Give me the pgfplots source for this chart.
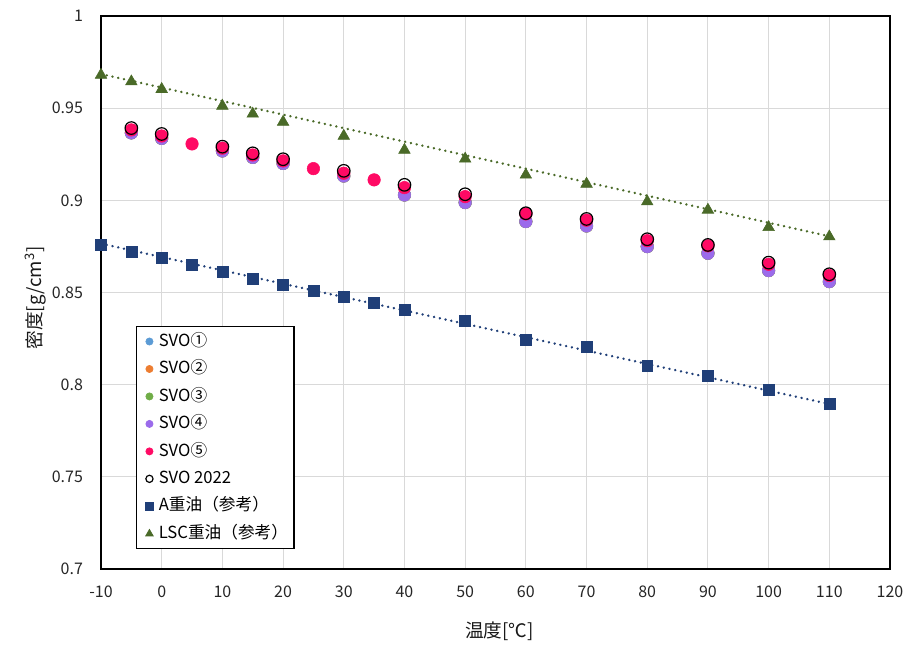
\documentclass[border=0pt]{standalone}
\usepackage{pgfplots}
\pgfplotsset{compat=1.18}
\usepackage{fontspec}
\setmainfont{Noto Sans CJK JP}

\definecolor{svoA}{HTML}{5B9BD5}
\definecolor{svoB}{HTML}{ED7D31}
\definecolor{svoC}{HTML}{70AD47}
\definecolor{svoD}{HTML}{9B6BEB}
\definecolor{svoE}{HTML}{FF0A64}
\definecolor{heavyA}{HTML}{203F78}
\definecolor{lsc}{HTML}{4A6A28}
\definecolor{gridgray}{HTML}{D9D9D9}

\begin{document}
\begin{tikzpicture}
\useasboundingbox (-75.75pt,-57pt) rectangle (614.25pt,426.75pt);
\begin{axis}[
  at={(0,0)}, anchor=south west,
  scale only axis, width=591.75pt, height=414.75pt,
  xmin=-10, xmax=120, ymin=0.7, ymax=1,
  xtick={-10,0,10,20,30,40,50,60,70,80,90,100,110,120},
  ytick={0.7,0.75,0.8,0.85,0.9,0.95,1},
  yticklabels={0.7,0.75,0.8,0.85,0.9,0.95,1},
  grid=major,
  major grid style={gridgray, line width=0.8pt},
  major tick length=0pt,
  axis line style={black, line width=1.2pt},
  /pgf/number format/assume math mode=true,
  tick label style={font=\fontsize{12}{14}\selectfont, text=black!85},
  yticklabel style={xshift=-10pt},
  xticklabel style={yshift=-9pt},
  xlabel={温度[℃]},
  ylabel={密度[g/cm\textsuperscript{3}]},
  every axis x label/.style={at={(axis description cs:0.505,0)}, anchor=center, yshift=-47pt,
    font=\fontsize{14}{16}\selectfont, text=black!90},
  every axis y label/.style={at={(axis description cs:-0.083,0.49)}, anchor=center, rotate=90,
    font=\fontsize{14}{16}\selectfont, text=black!90},
  legend cell align=left,
  legend style={
    at={(rel axis cs:0.0444,0.0362)}, anchor=south west,
    draw=black, line width=0.8pt, fill=white,
    font=\fontsize{12.5}{14}\selectfont,
    inner sep=3pt, row sep=4.6pt,
    nodes={inner sep=1.5pt, text height=10pt, text depth=3pt},
  },
  legend image code/.code={\path (0,0) (0.4cm,0); \draw[#1, line width=0.5pt] plot coordinates {(0.22cm,0cm)};},
]

% trend lines
\addplot[heavyA, line width=2pt, line cap=round, dash pattern=on 0.01pt off 4.4pt, forget plot] coordinates {(-10,0.8765) (110,0.7895)};
\addplot[lsc, line width=2pt, line cap=round, dash pattern=on 0.01pt off 4.4pt, forget plot] coordinates {(-10,0.9685) (110,0.8805)};

% SVO samples
\addplot[only marks, mark=*, mark size=4.7pt, color=svoA, legend image post style={mark size=2.7pt}] coordinates {
(-5,0.9366) (0,0.9336) (10,0.9268) (15,0.9233) (20,0.9200) (30,0.9132) (40,0.9029)
(50,0.8988) (60,0.8885) (70,0.8861) (80,0.8749) (90,0.8713) (100,0.8619) (110,0.8559)};
\addlegendentry{SVO①}
\addplot[only marks, mark=*, mark size=4.7pt, color=svoB, legend image post style={mark size=2.7pt}] coordinates {
(-5,0.9366) (0,0.9336) (10,0.9268) (15,0.9233) (20,0.9200) (30,0.9132) (40,0.9029)
(50,0.8988) (60,0.8885) (70,0.8861) (80,0.8749) (90,0.8713) (100,0.8619) (110,0.8559)};
\addlegendentry{SVO②}
\addplot[only marks, mark=*, mark size=4.7pt, color=svoC, legend image post style={mark size=2.7pt}] coordinates {
(-5,0.9366) (0,0.9336) (10,0.9268) (15,0.9233) (20,0.9200) (30,0.9132) (40,0.9029)
(50,0.8988) (60,0.8885) (70,0.8861) (80,0.8749) (90,0.8713) (100,0.8619) (110,0.8559)};
\addlegendentry{SVO③}
\addplot[only marks, mark=*, mark size=4.7pt, color=svoD, legend image post style={mark size=2.7pt}] coordinates {
(-5,0.9366) (0,0.9336) (10,0.9268) (15,0.9233) (20,0.9200) (30,0.9132) (40,0.9029)
(50,0.8988) (60,0.8885) (70,0.8861) (80,0.8749) (90,0.8713) (100,0.8619) (110,0.8559)};
\addlegendentry{SVO④}
\addplot[only marks, mark=*, mark size=4.7pt, color=svoE, legend image post style={mark size=2.7pt}] coordinates {
(-5,0.9382) (0,0.9349) (5,0.9306) (10,0.9283) (15,0.9246) (20,0.9214) (25,0.9172)
(30,0.9147) (35,0.9111) (40,0.9069) (50,0.9020) (60,0.8926) (70,0.8892) (80,0.8781)
(90,0.8753) (100,0.8653) (110,0.8592)};
\addlegendentry{SVO⑤}
\addplot[only marks, mark=o, mark size=4.7pt, mark options={draw=black, line width=0.9pt}, legend image post style={mark size=2.7pt}] coordinates {
(-5,0.9392) (0,0.9360) (10,0.9291) (15,0.9255) (20,0.9223) (30,0.9160) (40,0.9084)
(50,0.9033) (60,0.8930) (70,0.8899) (80,0.8789) (90,0.8758) (100,0.8662) (110,0.8599)};
\addlegendentry{SVO 2022}

% reference heavy oils
\addplot[only marks, mark=square*, mark size=4.1pt, color=heavyA, legend image post style={mark size=2.8pt}] coordinates {
(-10,0.8758) (-5,0.8722) (0,0.8686) (5,0.8650) (10,0.8610) (15,0.8574) (20,0.8541)
(25,0.8508) (30,0.8476) (35,0.8443) (40,0.8405) (50,0.8346) (60,0.8243) (70,0.8205)
(80,0.8101) (90,0.8047) (100,0.7971) (110,0.7895)};
\addlegendentry{A重油（参考）}
\addplot[only marks, mark=triangle*, mark size=5pt, color=lsc, legend image post style={mark size=3.3pt}] coordinates {
(-10,0.9680) (-5,0.9644) (0,0.9603) (10,0.9512) (15,0.9469) (20,0.9425) (30,0.9349)
(40,0.9273) (50,0.9225) (60,0.9138) (70,0.9089) (80,0.8993) (90,0.8948) (100,0.8854)
(110,0.8803)};
\addlegendentry{LSC重油（参考）}

\end{axis}
\end{tikzpicture}
\end{document}
